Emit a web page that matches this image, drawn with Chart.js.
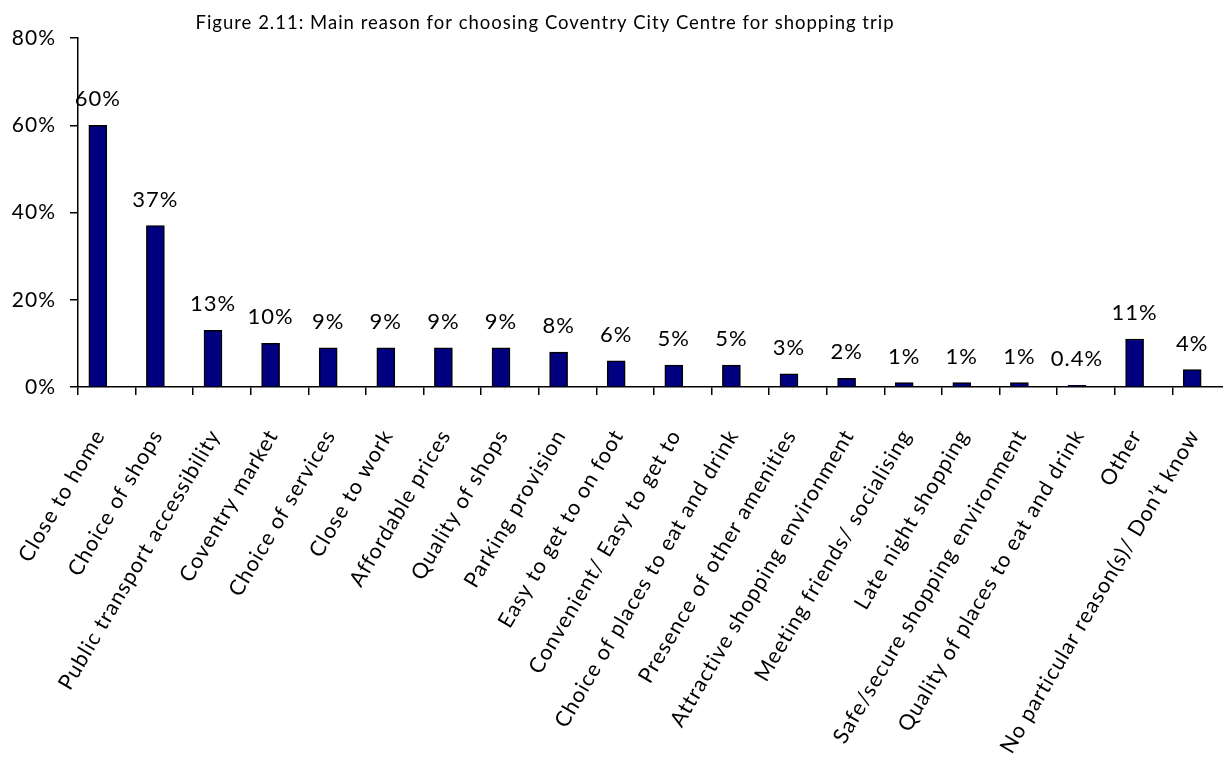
<!DOCTYPE html>
<html>
<head>
<meta charset="utf-8">
<title>Main reason for choosing Coventry City Centre</title>
<script src="https://cdn.jsdelivr.net/npm/chart.js@4"></script>
<style>
  html, body { margin: 0; padding: 0; background: #fff; overflow: hidden; }
  #wrap { width: 1240px; height: 762px; }
</style>
</head>
<body>
<div id="wrap"><canvas id="myChart" width="1240" height="762"></canvas></div>
<script>
const titleText = 'Figure 2.11: Main reason for choosing Coventry City Centre for shopping trip';

const reasons = [
  'Close to home', 'Choice of shops', 'Public transport accessibility', 'Coventry market',
  'Choice of services', 'Close to work', 'Affordable prices', 'Quality of shops',
  'Parking provision', 'Easy to get to on foot', 'Convenient/ Easy to get to',
  'Choice of places to eat and drink', 'Presence of other amenities',
  'Attractive shopping environment', 'Meeting friends/ socialising', 'Late night shopping',
  'Safe/secure shopping environment', 'Quality of places to eat and drink', 'Other',
  'No particular reason(s)/ Don\u2019t know'
];

// share of respondents, %
const shares = [60, 37, 13, 10, 9, 9, 9, 9, 8, 6, 5, 5, 3, 2, 1, 1, 1, 0.4, 11, 4];

const yTicks = [0, 20, 40, 60, 80];

const font = 'Lato, "Open Sans", sans-serif';

/* loose letter spacing for every text on the canvas */
const spacing = {
  id: 'spacing',
  beforeDraw(chart) {
    chart.ctx.letterSpacing = '1px';
  }
};

/* value labels above the bars */
const barValues = {
  id: 'barValues',
  afterDatasetsDraw(chart) {
    const { ctx } = chart;
    const meta = chart.getDatasetMeta(0);
    ctx.save();
    ctx.font = '22px ' + font;
    ctx.fillStyle = '#000';
    ctx.textAlign = 'center';
    ctx.textBaseline = 'middle';
    meta.data.forEach((bar, i) => {
      ctx.fillText(shares[i] + '%', bar.x, bar.y - 26);
    });
    ctx.restore();
  }
};

/* title sits left of the plot centre */
const figTitle = {
  id: 'figTitle',
  afterDraw(chart) {
    const { ctx } = chart;
    ctx.save();
    ctx.font = '18.5px ' + font;
    ctx.fillStyle = '#000';
    ctx.textAlign = 'center';
    ctx.textBaseline = 'middle';
    ctx.fillText(titleText, 545, 23);
    ctx.restore();
  }
};

const ctx = document.getElementById('myChart');

new Chart(ctx, {
  type: 'bar',
  data: {
    labels: reasons,
    datasets: [{
      data: shares,
      backgroundColor: '#000080',
      borderColor: '#000',
      borderWidth: 1.5,
      barThickness: 18
    }, {
      // empty slot keeps each bar in the left part of its category
      data: shares.map(() => null),
      backgroundColor: 'rgba(0,0,0,0)',
      barThickness: 18
    }]
  },
  options: {
    responsive: false,
    animation: false,
    layout: { padding: { top: 38, right: 10, left: 0, bottom: 0 } },
    plugins: {
      legend: { display: false },
      tooltip: { enabled: false }
    },
    scales: {
      x: {
        border: { color: '#000', width: 1.5 },
        grid: {
          offset: true,
          drawOnChartArea: false,
          drawTicks: true,
          tickLength: 8,
          color: '#000',
          lineWidth: 1.5
        },
        ticks: {
          color: '#000',
          font: { family: font, size: 21.5 },
          minRotation: 59.5,
          maxRotation: 59.5,
          autoSkip: false,
          padding: 30,
          labelOffset: -7
        },
        afterFit(scale) {
          scale.height = 375;
          scale.paddingLeft = 0;
          scale.paddingRight = 0;
        }
      },
      y: {
        min: 0,
        max: 80,
        border: { color: '#000', width: 1.5 },
        grid: {
          drawOnChartArea: false,
          drawTicks: true,
          tickLength: 8,
          color: '#000',
          lineWidth: 1.5
        },
        afterBuildTicks(scale) {
          scale.ticks = yTicks.map(v => ({ value: v }));
        },
        ticks: {
          color: '#000',
          font: { family: font, size: 21 },
          padding: 14,
          callback: v => v + '%'
        },
        afterFit(scale) { scale.width = 78; }
      }
    }
  },
  plugins: [spacing, barValues, figTitle]
});
</script>
</body>
</html>
